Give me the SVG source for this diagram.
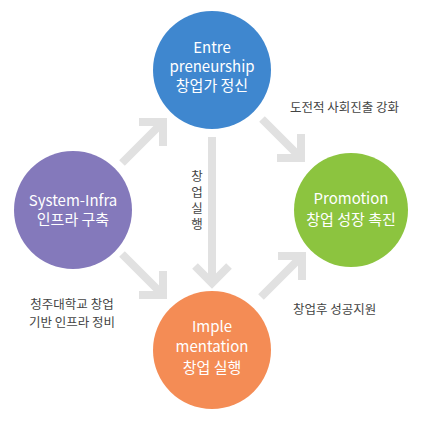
<svg xmlns="http://www.w3.org/2000/svg" width="423" height="421" viewBox="0 0 423 421">
<style>
.arr{fill:none;stroke:#e1e1e1;stroke-width:8;stroke-linecap:butt;stroke-linejoin:miter}
.ct{font-family:"Noto Sans CJK KR","Noto Sans",sans-serif;font-size:15px;fill:#fff;text-anchor:middle}
.lb{font-family:"Noto Sans CJK KR","Noto Sans",sans-serif;font-size:12.5px;fill:#444}
</style>
<rect width="423" height="421" fill="#fff"/>
<g id="connectors">
<line class="arr" x1="122" y1="163" x2="163" y2="122"/>
<polyline class="arr" points="139,122 163,122 163,146"/>
<line class="arr" x1="262" y1="119" x2="301" y2="158"/>
<polyline class="arr" points="301,134 301,158 277,158"/>
<line class="arr" x1="122" y1="254" x2="163" y2="295"/>
<polyline class="arr" points="163,271 163,295 139,295"/>
<line class="arr" x1="261" y1="297" x2="302" y2="256"/>
<polyline class="arr" points="278,256 302,256 302,280"/>
<line class="arr" x1="212" y1="137" x2="212" y2="282"/>
<polyline class="arr" points="195,266 212,283 229,266"/>
<text class="lb" font-size="13.5" x="197" y="170" style="writing-mode:vertical-rl;text-orientation:upright;letter-spacing:3.5px">창업실행</text>
<text class="lb" x="290" y="112">도전적 사회진출 강화</text>
<text class="lb" x="293" y="314">창업후 성공지원</text>
<text class="lb" text-anchor="middle"><tspan x="72" y="309">청주대학교 창업</tspan><tspan x="72" y="327">기반 인프라 정비</tspan></text>
</g>
<g id="entrepreneurship">
<circle cx="212" cy="70" r="59" fill="#3f87cf"/>
<text class="ct"><tspan x="212" y="53">Entre</tspan><tspan x="212" y="72">preneurship</tspan><tspan x="212" y="91">창업가 정신</tspan></text>
</g>
<g id="system-infra">
<circle cx="73" cy="210" r="59" fill="#8479bb"/>
<text class="ct"><tspan x="73" y="206">System-Infra</tspan><tspan x="73" y="225">인프라 구축</tspan></text>
</g>
<g id="promotion">
<circle cx="351" cy="210" r="57" fill="#8cc43f"/>
<text class="ct"><tspan x="351" y="204">Promotion</tspan><tspan x="351" y="225">창업 성장 촉진</tspan></text>
</g>
<g id="implementation">
<circle cx="212" cy="350" r="59" fill="#f48c55"/>
<text class="ct"><tspan x="212" y="332">Imple</tspan><tspan x="212" y="352">mentation</tspan><tspan x="212" y="373">창업 실행</tspan></text>
</g>
</svg>
